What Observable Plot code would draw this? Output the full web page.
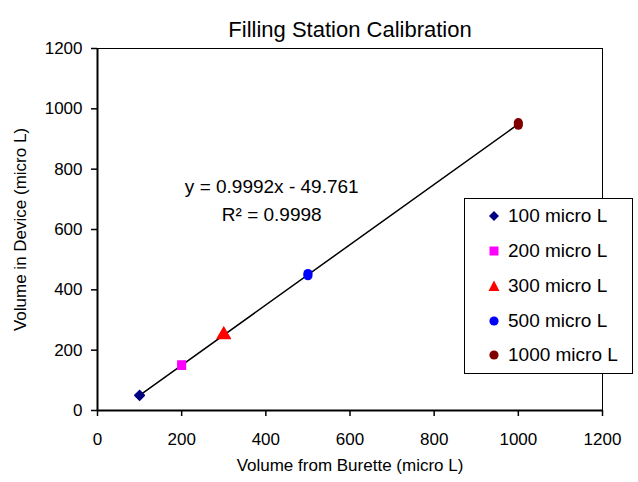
<!DOCTYPE html>
<html>
<head>
<meta charset="utf-8">
<script src="https://cdn.jsdelivr.net/npm/d3@7"></script>
<script src="https://cdn.jsdelivr.net/npm/@observablehq/plot@0.6"></script>
<style>
  html, body { margin: 0; padding: 0; background: #fff; }
  #wrap { position: relative; width: 638px; height: 482px; font-family: "Liberation Sans", Arial, sans-serif; }
  #legend { position: absolute; left: 464px; top: 198px; width: 169px; height: 176px; border: 1px solid #000; background: #fff; box-sizing: border-box; }
  .row { position: absolute; left: 0; height: 20px; display: flex; align-items: center; font-size: 19px; color: #000; }
  .row svg { position: absolute; left: 23px; }
  .row span { position: absolute; left: 43px; white-space: nowrap; }
</style>
</head>
<body>
<div id="wrap"></div>
<script>
// Data
const seriesNames = ["100 micro L", "200 micro L", "300 micro L", "500 micro L", "1000 micro L"];
const seriesColors = ["#000080", "#FF00FF", "#FF0000", "#0000FF", "#800000"];
const seriesSymbols = ["diamond2", "square", "triangle", "circle", "circle"];
const burette = [100, 100, 200, 200, 300, 300, 500, 500, 1000, 1000];
const device  = [49, 51, 149, 152, 250, 252, 447, 454, 946, 954];
const pointSeries = ["100 micro L", "100 micro L", "200 micro L", "200 micro L", "300 micro L", "300 micro L", "500 micro L", "500 micro L", "1000 micro L", "1000 micro L"];
const fit = {slope: 0.9992, intercept: -49.761};
const eqText = ["y = 0.9992x - 49.761", "R\u00B2 = 0.9998"];
const eqPos = {x: 414, y: [740, 650]};
const xTicks = [0, 200, 400, 600, 800, 1000, 1200];
const yTicks = [0, 200, 400, 600, 800, 1000, 1200];

const points = burette.map((b, i) => ({x: b, y: device[i], s: pointSeries[i]}));
const xMin = d3.min(burette), xMax = d3.max(burette);
const fitLine = [xMin, xMax].map(x => ({x, y: fit.slope * x + fit.intercept}));
const eq = eqText.map((t, i) => ({t, x: eqPos.x, y: eqPos.y[i]}));

const rBySeries = {"100 micro L": 5, "200 micro L": 5, "300 micro L": 5.5, "500 micro L": 4.6, "1000 micro L": 4.6};

const chart = Plot.plot({
  width: 638,
  height: 482,
  marginLeft: 97,
  marginRight: 36,
  marginTop: 48,
  marginBottom: 72,
  style: {fontFamily: "Liberation Sans, Arial, sans-serif", fontSize: "17px", color: "#000", background: "#fff"},
  x: {domain: [0, 1200]},
  y: {domain: [0, 1200]},
  color: {domain: seriesNames, range: seriesColors},
  symbol: {domain: seriesNames, range: seriesSymbols},
  marks: [
    Plot.frame({stroke: "#000", strokeWidth: 1}),
    Plot.axisX({ticks: xTicks, tickSize: 6, tickPadding: 16, tickFormat: d => String(d), label: "Volume from Burette (micro L)", labelAnchor: "center", labelArrow: "none", labelOffset: 60, fontSize: 17, strokeWidth: 1.5}),
    Plot.axisY({ticks: yTicks, tickSize: 6, tickPadding: 9, tickFormat: d => String(d), label: "Volume in Device (micro L)", labelAnchor: "center", labelArrow: "none", labelOffset: 84, fontSize: 17, strokeWidth: 1.5}),
    Plot.ruleX([0], {stroke: "#000", strokeWidth: 2}),
    Plot.ruleY([0], {stroke: "#000", strokeWidth: 2}),
    Plot.line(fitLine, {x: "x", y: "y", stroke: "#000", strokeWidth: 1.5}),
    ...seriesNames.map(n => Plot.dot(points.filter(p => p.s === n), {x: "x", y: "y", fill: "s", symbol: "s", r: rBySeries[n], stroke: "none"})),
    Plot.text(eq, {x: "x", y: "y", text: "t", fontSize: 19, fill: "#000"}),
    Plot.text(["Filling Station Calibration"], {frameAnchor: "top", dy: -27, fontSize: 22, fill: "#000"})
  ]
});
document.getElementById("wrap").appendChild(chart);

// Legend
const legend = document.createElement("div");
legend.id = "legend";
const rowTops = [7, 42, 77, 112, 146];
const sym = {
  diamond2: '<polygon points="6,1 11,6 6,11 1,6" />',
  square: '<rect x="1.5" y="1.5" width="9" height="9" />',
  triangle: '<polygon points="6,0.5 11.5,11 0.5,11" />',
  circle: '<circle cx="6" cy="6" r="4.6" />'
};
seriesNames.forEach((n, i) => {
  const row = document.createElement("div");
  row.className = "row";
  row.style.top = rowTops[i] + "px";
  row.innerHTML = `<svg width="12" height="12" viewBox="0 0 12 12" fill="${seriesColors[i]}">${sym[seriesSymbols[i]]}</svg><span>${n}</span>`;
  legend.appendChild(row);
});
document.getElementById("wrap").appendChild(legend);
</script>
</body>
</html>
